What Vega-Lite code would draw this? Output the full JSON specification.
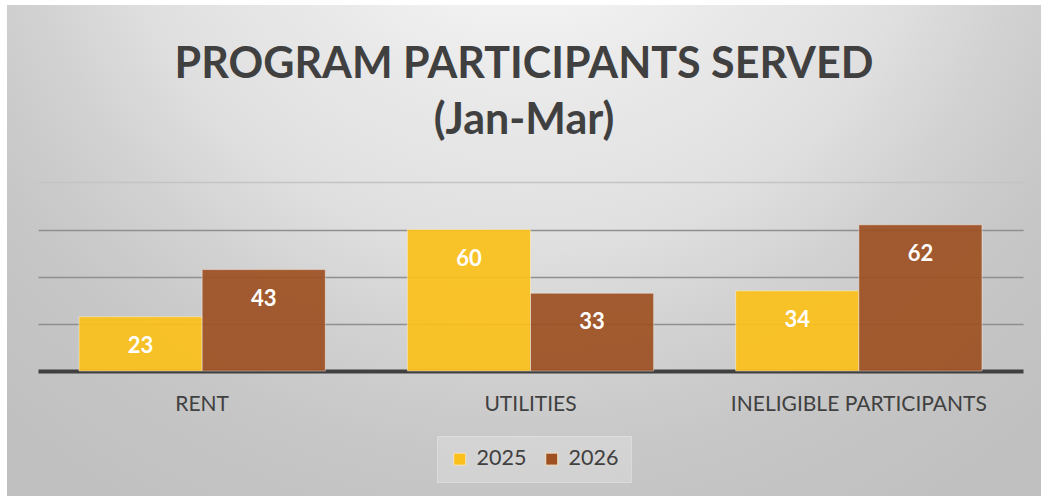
{
  "$schema": "https://vega.github.io/schema/vega-lite/v6.json",
  "autosize": {"type": "none"},
  "padding": {"left": 7, "top": 5, "right": 0, "bottom": 0},
  "width": 1034,
  "height": 491,
  "background": "#ffffff",
  "view": {
    "stroke": null,
    "fill": {
      "gradient": "radial",
      "x1": 0.5, "y1": 0.1, "r1": 0,
      "x2": 0.5, "y2": 0.1, "r2": 0.75,
      "stops": [
        {"offset": 0, "color": "#ffffff"},
        {"offset": 0.13, "color": "#f8f8f8"},
        {"offset": 0.32, "color": "#eaeaea"},
        {"offset": 0.52, "color": "#e0e0e0"},
        {"offset": 0.67, "color": "#d1d1d1"},
        {"offset": 0.8, "color": "#c7c7c7"},
        {"offset": 1, "color": "#c0c0c0"}
      ]
    }
  },
  "title": {
    "text": ["PROGRAM PARTICIPANTS SERVED", "(Jan-Mar)"],
    "font": "Lato",
    "fontSize": 43,
    "fontWeight": "bold",
    "color": "#404040",
    "lineHeight": 56,
    "baseline": "bottom",
    "anchor": "middle",
    "frame": "group",
    "offset": -181
  },
  "data": {
    "values": [
      {"category": "RENT", "year": "2025", "value": 23},
      {"category": "RENT", "year": "2026", "value": 43},
      {"category": "UTILITIES", "year": "2025", "value": 60},
      {"category": "UTILITIES", "year": "2026", "value": 33},
      {"category": "INELIGIBLE PARTICIPANTS", "year": "2025", "value": 34},
      {"category": "INELIGIBLE PARTICIPANTS", "year": "2026", "value": 62}
    ]
  },
  "encoding": {
    "x": {
      "field": "category",
      "type": "nominal",
      "sort": ["RENT", "UTILITIES", "INELIGIBLE PARTICIPANTS"],
      "scale": {"range": [31, 1016], "paddingInner": 0, "paddingOuter": 0},
      "axis": {
        "orient": "bottom",
        "offset": -125,
        "title": null,
        "labelAngle": 0,
        "domain": false,
        "ticks": false,
        "tickSize": 0,
        "labelPadding": 22,
        "labelLimit": 0,
        "labelFont": "Lato",
        "labelFontSize": 21,
        "labelColor": "#404040",
        "grid": false
      }
    },
    "xOffset": {
      "field": "year",
      "type": "nominal",
      "scale": {"paddingInner": 0, "paddingOuter": 0.333}
    },
    "y": {
      "field": "value",
      "type": "quantitative",
      "scale": {"domain": [-53, 155.2], "nice": false, "zero": false},
      "axis": {
        "title": null,
        "labels": false,
        "ticks": false,
        "domain": false,
        "values": [0, 20, 40, 60, 80],
        "grid": true,
        "gridColor": {
          "condition": [
            {"test": "datum.value === 0", "value": "#404040"},
            {"test": "datum.value === 80", "value": "#c4c4c4"}
          ],
          "value": "#8f8f8f"
        },
        "gridWidth": {
          "condition": {"test": "datum.value === 0", "value": 4},
          "value": 1.5
        }
      }
    }
  },
  "layer": [
    {
      "mark": {"type": "bar", "opacity": 0.92, "stroke": "#ffffff", "strokeOpacity": 0.45, "strokeWidth": 1},
      "encoding": {
        "y2": {"datum": 0},
        "color": {
          "field": "year",
          "type": "nominal",
          "scale": {"domain": ["2025", "2026"], "range": ["#fbc11a", "#9e5022"]},
          "legend": {
            "title": null,
            "orient": "none",
            "legendX": 430,
            "legendY": 431,
            "direction": "horizontal",
            "symbolType": "square",
            "symbolSize": 144,
            "symbolStrokeColor": "#f3e3c3",
            "symbolStrokeWidth": 1,
            "symbolOpacity": 1,
            "labelFont": "Lato",
            "labelFontSize": 21.5,
            "labelColor": "#404040",
            "labelOffset": 6,
            "columnPadding": 14,
            "padding": 12,
            "fillColor": "rgba(255,255,255,0.22)",
            "strokeColor": "rgba(255,255,255,0.3)"
          }
        }
      }
    },
    {
      "mark": {"type": "text", "color": "#ffffff", "font": "Lato", "fontWeight": "bold", "fontSize": 22, "baseline": "middle", "dy": 29},
      "encoding": {
        "text": {"field": "value", "type": "quantitative"}
      }
    }
  ]
}
